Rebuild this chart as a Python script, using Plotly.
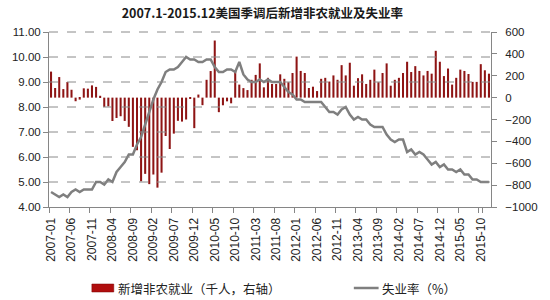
import plotly.graph_objects as go

# ---- data ----
months = [f"{y}-{m:02d}" for y in range(2007, 2016) for m in range(1, 13)]

payrolls_2007 = [238, 88, 188, 78, 143, 72, -33, -18, 85, 82, 112, 98]
payrolls_2008 = [17, -85, -80, -214, -186, -170, -213, -267, -450, -481, -765, -697]
payrolls_2009 = [-791, -703, -823, -686, -351, -470, -329, -212, -219, -200, -7, -279]
payrolls_2010 = [28, -69, 163, 243, 522, -133, -70, -34, -52, 250, 119, 87]
payrolls_2011 = [69, 163, 208, 313, 94, 181, 125, 125, 213, 172, 141, 225]
payrolls_2012 = [375, 244, 225, 88, 100, 60, 172, 181, 147, 203, 163, 297]
payrolls_2013 = [203, 319, 109, 178, 213, 125, 163, 256, 141, 225, 313, 109]
payrolls_2014 = [163, 181, 225, 328, 234, 288, 244, 203, 244, 219, 428, 328]
payrolls_2015 = [197, 266, 119, 181, 256, 244, 216, 144, 144, 306, 250, 219]
payrolls = (payrolls_2007 + payrolls_2008 + payrolls_2009 + payrolls_2010 + payrolls_2011
            + payrolls_2012 + payrolls_2013 + payrolls_2014 + payrolls_2015)

unemp_2007 = [4.6, 4.5, 4.4, 4.5, 4.4, 4.6, 4.7, 4.6, 4.7, 4.7, 4.7, 5.0]
unemp_2008 = [5.0, 4.9, 5.1, 5.0, 5.4, 5.6, 5.8, 6.1, 6.1, 6.5, 6.8, 7.3]
unemp_2009 = [7.8, 8.3, 8.7, 9.0, 9.4, 9.5, 9.5, 9.6, 9.8, 10.0, 9.9, 9.9]
unemp_2010 = [9.8, 9.8, 9.9, 9.9, 9.6, 9.4, 9.4, 9.5, 9.5, 9.4, 9.8, 9.3]
unemp_2011 = [9.1, 9.0, 9.0, 9.1, 9.0, 9.1, 9.0, 9.0, 9.0, 8.8, 8.6, 8.5]
unemp_2012 = [8.3, 8.3, 8.2, 8.2, 8.2, 8.2, 8.2, 8.0, 7.8, 7.8, 7.7, 7.9]
unemp_2013 = [8.0, 7.7, 7.5, 7.6, 7.5, 7.5, 7.3, 7.2, 7.2, 7.2, 6.9, 6.7]
unemp_2014 = [6.6, 6.7, 6.7, 6.2, 6.3, 6.1, 6.2, 6.1, 5.9, 5.7, 5.8, 5.6]
unemp_2015 = [5.7, 5.5, 5.5, 5.4, 5.5, 5.3, 5.3, 5.1, 5.1, 5.0, 5.0, 5.0]
unemp = (unemp_2007 + unemp_2008 + unemp_2009 + unemp_2010 + unemp_2011
         + unemp_2012 + unemp_2013 + unemp_2014 + unemp_2015)

tick_labels = months[::5]

title_text = "2007.1-2015.12美国季调后新增非农就业及失业率"
bar_name = "新增非农就业（千人，右轴）"
line_name = "失业率（%）"

# axis ranges
u_min, u_max, u_step = 4, 11, 1
p_min, p_max, p_step = -1000, 600, 200

# ---- figure ----
W, H = 550, 300
ML, MR, MT, MB = 42, 44, 32, 93
PW, PH = W - ML - MR, H - MT - MB

def px_x(p):
    return (p - ML) / PW

def px_y(p):
    return (H - MB - p) / PH

bar_color = "#8E1414"
line_color = "#7F7F7F"
axis_color = "#868686"
grid_color = "#8a8a8a"
font_fam = "Liberation Sans, Arial, sans-serif"
cjk = "Noto Sans CJK SC, sans-serif"
tick_font = dict(family=font_fam, size=11.5, color="#222")

fig = go.Figure()
fig.add_trace(go.Bar(x=months, y=payrolls, name=bar_name, yaxis="y",
                     marker=dict(color=bar_color, line=dict(width=0)),
                     showlegend=False))
fig.add_trace(go.Scatter(x=months, y=unemp, name=line_name, yaxis="y2", mode="lines",
                         line=dict(color=line_color, width=2.5),
                         showlegend=False))

fig.update_layout(
    width=W, height=H,
    margin=dict(l=ML, r=MR, t=MT, b=MB),
    paper_bgcolor="white", plot_bgcolor="rgba(0,0,0,0)",
    bargap=0.5,
    title=dict(text=title_text, x=0.477, xanchor="center", y=1 - 14 / H, yanchor="middle",
               font=dict(family=cjk, size=12.5, color="#1a1a1a", weight="bold")),
    xaxis=dict(type="category", categoryorder="array", categoryarray=months,
               range=[-0.5, len(months) - 0.5],
               tickmode="array", tickvals=tick_labels, ticktext=tick_labels,
               tickson="boundaries", ticks="outside", ticklen=5, tickcolor=axis_color,
               tickangle=-90, ticklabelstandoff=5,
               showline=True, linecolor=axis_color, linewidth=1,
               showgrid=False, tickfont=dict(family=font_fam, size=12, color="#222")),
    # right axis: payrolls
    yaxis=dict(side="right", range=[p_min, p_max], dtick=p_step, tick0=0,
               showgrid=False, zeroline=False, showline=True, linecolor=axis_color,
               ticks="outside", ticklen=5, tickcolor=axis_color,
               ticklabelstandoff=6, tickfont=tick_font),
    # left axis: unemployment rate
    yaxis2=dict(side="left", overlaying="y", range=[u_min, u_max], dtick=u_step, tick0=u_min,
                tickformat=".2f", showgrid=False, zeroline=False, showline=True,
                linecolor=axis_color, ticks="outside", ticklen=5, tickcolor=axis_color,
                tickfont=tick_font),
)

# dashed grid at every left-axis tick, placed by its fraction of the left axis range
for v in range(u_min + u_step, u_max + 1, u_step):
    frac = (v - u_min) / (u_max - u_min)
    fig.add_shape(type="line", xref="paper", yref="paper", x0=0, x1=1, y0=frac, y1=frac,
                  line=dict(color=grid_color, width=1, dash="dash"), layer="above")

# custom legend (bottom)
ly = 288
fig.add_shape(type="rect", xref="paper", yref="paper",
              x0=px_x(87), x1=px_x(110), y0=px_y(ly + 4), y1=px_y(ly - 4),
              fillcolor="#B00E0E", line=dict(color="#7a0000", width=0.5))
fig.add_annotation(xref="paper", yref="paper", x=px_x(112), y=px_y(ly),
                   xanchor="left", yanchor="middle", showarrow=False,
                   text=bar_name, font=dict(family=cjk, size=12.5, color="#222"))
fig.add_shape(type="line", xref="paper", yref="paper",
              x0=px_x(362), x1=px_x(388), y0=px_y(ly), y1=px_y(ly),
              line=dict(color=line_color, width=2.5))
fig.add_annotation(xref="paper", yref="paper", x=px_x(389), y=px_y(ly),
                   xanchor="left", yanchor="middle", showarrow=False,
                   text=line_name, font=dict(family=cjk, size=12.5, color="#222"))

fig.write_html("out.html")
